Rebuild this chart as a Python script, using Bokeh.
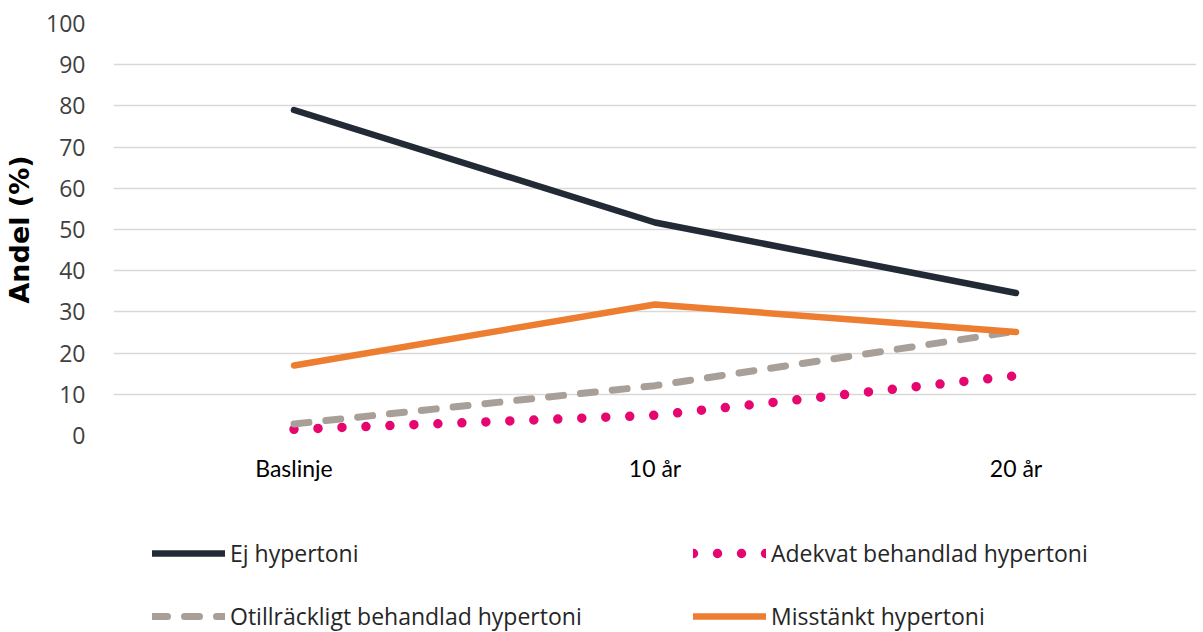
from bokeh.plotting import figure
from bokeh.layouts import column
from bokeh.models import FactorRange, Range1d, Legend, LegendItem, FixedTicker
from bokeh.embed import file_html
from bokeh.resources import INLINE

# Time points and the share (%) in each blood-pressure group
categories = ["Baslinje", "10 år", "20 år"]
ej_hypertoni = [79.0, 51.7, 34.6]
adekvat = [1.5, 4.9, 14.5]
otillrackligt = [2.8, 12.1, 25.3]
misstankt = [17.0, 31.8, 25.1]
y_ticks = [0, 10, 20, 30, 40, 50, 60, 70, 80, 90, 100]

series = [
    ("Ej hypertoni", ej_hypertoni, dict(line_color="#222a35", line_width=6.5, line_cap="round", line_join="round")),
    ("Adekvat behandlad hypertoni", adekvat, dict(line_color="#e5066f", line_width=9.5, line_cap="round", line_dash="0 24")),
    ("Otillräckligt behandlad hypertoni", otillrackligt, dict(line_color="#a89f98", line_width=7, line_cap="round", line_dash="15 17")),
    ("Misstänkt hypertoni", misstankt, dict(line_color="#ed7d31", line_width=6.5, line_cap="round", line_join="round")),
]

# Main chart
p = figure(
    width=1203, height=500,
    x_range=FactorRange(*categories, range_padding=0),
    y_range=Range1d(0, 100),
    output_backend="svg", toolbar_location=None,
    min_border_left=113, min_border_right=7,
    min_border_top=23, min_border_bottom=65,
)
p.outline_line_color = None
p.background_fill_color = "white"
p.border_fill_color = "white"

for name, vals, style in series:
    p.line(categories, vals, **style)

p.yaxis.ticker = FixedTicker(ticks=y_ticks)
p.yaxis.axis_line_color = None
p.yaxis.major_tick_line_color = None
p.yaxis.minor_tick_line_color = None
p.yaxis.major_label_standoff = 22
p.yaxis.major_label_text_font = "Open Sans"
p.yaxis.major_label_text_font_size = "23px"
p.yaxis.major_label_text_color = "#404040"
p.yaxis.axis_label = "Andel (%)"
p.yaxis.axis_label_text_font = "DejaVu Sans"
p.yaxis.axis_label_text_font_style = "bold"
p.yaxis.axis_label_text_font_size = "27px"
p.yaxis.axis_label_text_color = "black"
p.yaxis.axis_label_standoff = 8

p.xaxis.axis_line_color = None
p.xaxis.major_tick_line_color = None
p.xaxis.minor_tick_line_color = None
p.xaxis.major_label_standoff = 12
p.xaxis.major_label_text_font = "Lato"
p.xaxis.major_label_text_font_size = "23px"
p.xaxis.major_label_text_color = "black"

p.xgrid.grid_line_color = None
p.ygrid.grid_line_color = "#d9d9d9"
p.ygrid.grid_line_width = 1.5

# Legend strip below the chart (its lines are hidden; only the key is shown)
lg = figure(
    width=1203, height=132,
    x_range=FactorRange(*categories), y_range=Range1d(0, 100),
    output_backend="svg", toolbar_location=None,
    min_border=0,
)
lg.axis.visible = False
lg.grid.visible = False
lg.outline_line_color = None
lg.background_fill_color = "white"
lg.border_fill_color = "white"

keys = {}
for name, vals, style in series:
    keys[name] = lg.line(categories, vals, visible=False, **style)

# Column-major fill: first column holds items 1 and 3, second column items 2 and 4
order = ["Ej hypertoni", "Otillräckligt behandlad hypertoni",
         "Adekvat behandlad hypertoni", "Misstänkt hypertoni"]
legend = Legend(
    items=[LegendItem(label=n, renderers=[keys[n]]) for n in order],
    ncols=2,
    location=(39, 0),
    padding=0, margin=0,
    border_line_color=None, background_fill_alpha=0,
    glyph_width=73, glyph_height=20,
    label_standoff=5, label_width=432, label_height=32,
    spacing=31,
    label_text_font="Open Sans", label_text_font_size="23px",
    label_text_color="#262626",
)
lg.add_layout(legend, "center")

layout = column(p, lg, spacing=0)
open("out.html", "w").write(file_html(layout, INLINE))
